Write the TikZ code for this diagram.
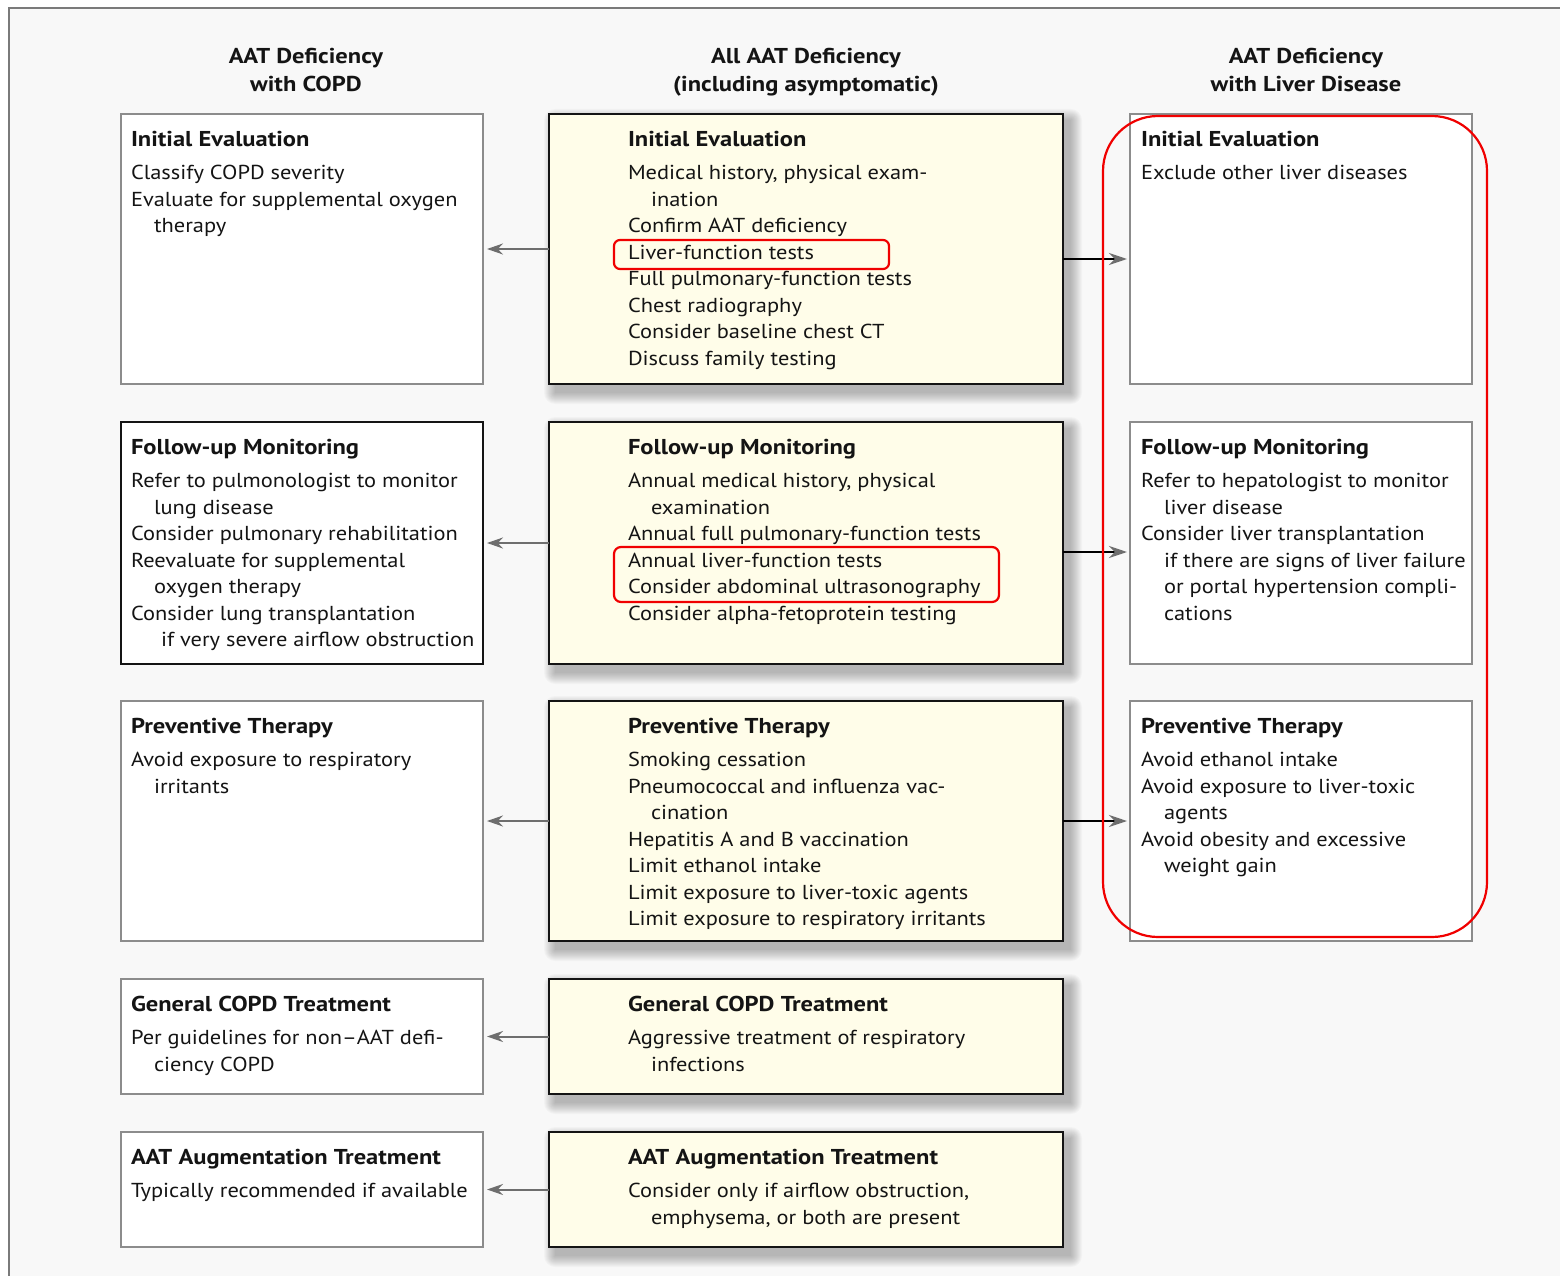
\documentclass[tikz,border=0pt]{standalone}
\usepackage{fontspec}
\setmainfont{PT Sans}[FakeStretch=1.11, BoldFeatures={FakeStretch=1.14}]
\usetikzlibrary{arrows.meta,calc}
\definecolor{bgray}{HTML}{F8F8F8}
\definecolor{cream}{HTML}{FFFDE9}
\definecolor{frameg}{HTML}{7A7A7A}
\definecolor{boxg}{HTML}{8C8C8C}
\definecolor{txt}{HTML}{141414}
\definecolor{arrg}{HTML}{6E6E6E}
\definecolor{hl}{HTML}{F00000}
\tikzset{
  every node/.style={inner sep=0pt, outer sep=0pt},
  lbox/.style={draw=boxg, line width=1.6pt, fill=white, anchor=north west},
  lboxdark/.style={draw=txt, line width=1.8pt, fill=white, anchor=north west},
  mbox/.style={draw=txt, line width=1.8pt, fill=cream, anchor=north west},
  rbox/.style={draw=boxg, line width=1.6pt, fill=white, anchor=north west},
  btext/.style={anchor=north west, align=left, text=txt, font=\fontsize{20.2}{26.5}\selectfont},
  htext/.style={anchor=north, align=center, text=txt, font=\fontsize{21.5}{27.5}\selectfont\bfseries},
  larrow/.style={draw=arrg, line width=2pt, -{Stealth[length=16pt,width=11pt,color=arrg]}, shorten >=4pt},
  rarrow/.style={draw=black, line width=2.8pt, -{Stealth[length=18pt,width=12pt,color=arrg]}, shorten >=3pt},
  hlbox/.style={draw=hl, line width=2.2pt}
}
\newcommand{\ind}{\hspace*{23pt}}
\newcommand{\ttl}[1]{\strut{\fontsize{21.5}{26.5}\selectfont\textbf{#1}}\\[6.5pt]}
\begin{document}
\begin{tikzpicture}[x=1pt,y=-1pt]
\useasboundingbox (0,0) rectangle (1560,1276);
\fill[white] (0,0) rectangle (1560,1276);
\fill[bgray] (9,8) rectangle (1560,1276);
\draw[frameg, line width=2pt] (9,1276) -- (9,8) -- (1560,8);

% shadows of middle boxes
\foreach \ya/\yb in {114/384,422/664,701/941,979/1094,1132/1247}{
  \foreach \k in {0,...,11}{
    \fill[black, opacity=0.024, rounded corners=\k pt] (555-\k,\ya+6-\k) rectangle (1071+\k,\yb+9+\k);
  }
}

% headers
\node[htext] (h1) at (306,44.5) {\strut AAT Deficiency\\with COPD};
\node[htext] (h2) at (806,44.5) {\strut All AAT Deficiency\\(including asymptomatic)};
\node[htext] (h3) at (1306,44.5) {\strut AAT Deficiency\\with Liver Disease};

% left column
\node[lbox, minimum width=362pt, minimum height=270pt] (L1) at (121,114) {};
\node[lboxdark, minimum width=362pt, minimum height=242pt] (L2) at (121,422) {};
\node[lbox, minimum width=362pt, minimum height=240pt] (L3) at (121,701) {};
\node[lbox, minimum width=362pt, minimum height=115pt] (L4) at (121,979) {};
\node[lbox, minimum width=362pt, minimum height=115pt] (L5) at (121,1132) {};

% middle column
\node[mbox, minimum width=514pt, minimum height=270pt] (M1) at (549,114) {};
\node[mbox, minimum width=514pt, minimum height=242pt] (M2) at (549,422) {};
\node[mbox, minimum width=514pt, minimum height=240pt] (M3) at (549,701) {};
\node[mbox, minimum width=514pt, minimum height=115pt] (M4) at (549,979) {};
\node[mbox, minimum width=514pt, minimum height=115pt] (M5) at (549,1132) {};

% right column
\node[rbox, minimum width=342pt, minimum height=270pt] (R1) at (1130,114) {};
\node[rbox, minimum width=342pt, minimum height=242pt] (R2) at (1130,422) {};
\node[rbox, minimum width=342pt, minimum height=240pt] (R3) at (1130,701) {};

% left texts
\node[btext] (tL1) at (131,128) {\ttl{Initial Evaluation}Classify COPD severity\\Evaluate for supplemental oxygen\\\ind therapy};
\node[btext] (tL2) at (131,436) {\ttl{Follow-up Monitoring}Refer to pulmonologist to monitor\\\ind lung disease\\Consider pulmonary rehabilitation\\Reevaluate for supplemental\\\ind oxygen therapy\\Consider lung transplantation\\\hspace*{30pt}if very severe airflow obstruction};
\node[btext] (tL3) at (131,715) {\ttl{Preventive Therapy}Avoid exposure to respiratory\\\ind irritants};
\node[btext] (tL4) at (131,993) {\ttl{General COPD Treatment}Per guidelines for non--AAT defi-\\\ind ciency COPD};
\node[btext] (tL5) at (131,1146) {\ttl{AAT Augmentation Treatment}Typically recommended if available};

% middle texts
\node[btext] (tM1) at (628,128) {\ttl{Initial Evaluation}Medical history, physical exam-\\\ind ination\\Confirm AAT deficiency\\Liver-function tests\\Full pulmonary-function tests\\Chest radiography\\Consider baseline chest CT\\Discuss family testing};
\node[btext] (tM2) at (628,436) {\ttl{Follow-up Monitoring}Annual medical history, physical\\\ind examination\\Annual full pulmonary-function tests\\Annual liver-function tests\\Consider abdominal ultrasonography\\Consider alpha-fetoprotein testing};
\node[btext] (tM3) at (628,715) {\ttl{Preventive Therapy}Smoking cessation\\Pneumococcal and influenza vac-\\\ind cination\\Hepatitis A and B vaccination\\Limit ethanol intake\\Limit exposure to liver-toxic agents\\Limit exposure to respiratory irritants};
\node[btext] (tM4) at (628,993) {\ttl{General COPD Treatment}Aggressive treatment of respiratory\\\ind infections};
\node[btext] (tM5) at (628,1146) {\ttl{AAT Augmentation Treatment}Consider only if airflow obstruction,\\\ind emphysema, or both are present};

% right texts
\node[btext] (tR1) at (1141,128) {\ttl{Initial Evaluation}Exclude other liver diseases};
\node[btext] (tR2) at (1141,436) {\ttl{Follow-up Monitoring}Refer to hepatologist to monitor\\\ind liver disease\\Consider liver transplantation\\\ind if there are signs of liver failure\\\ind or portal hypertension compli-\\\ind cations};
\node[btext] (tR3) at (1141,715) {\ttl{Preventive Therapy}Avoid ethanol intake\\Avoid exposure to liver-toxic\\\ind agents\\Avoid obesity and excessive\\\ind weight gain};

% connectors
\draw[larrow] (M1.west) -- (L1.east);
\draw[larrow] (M2.west) -- (L2.east);
\draw[larrow] (M3.west) -- (L3.east);
\draw[larrow] (M4.west) -- (L4.east);
\draw[larrow] (M5.west) -- (L5.east);
\draw[rarrow] ([yshift=-10pt]M1.east) -- ([yshift=-10pt]R1.west);
\draw[rarrow] ([yshift=-9pt]M2.east) -- ([yshift=-9pt]R2.west);
\draw[rarrow] (M3.east) -- (R3.west);

% red highlights
\draw[hlbox, rounded corners=6pt] (614,240) rectangle (889,269);
\draw[hlbox, rounded corners=7pt] (614,547) rectangle (999,602);
\draw[hlbox, rounded corners=55pt] (1103,116) rectangle (1487,937);
\end{tikzpicture}
\end{document}
